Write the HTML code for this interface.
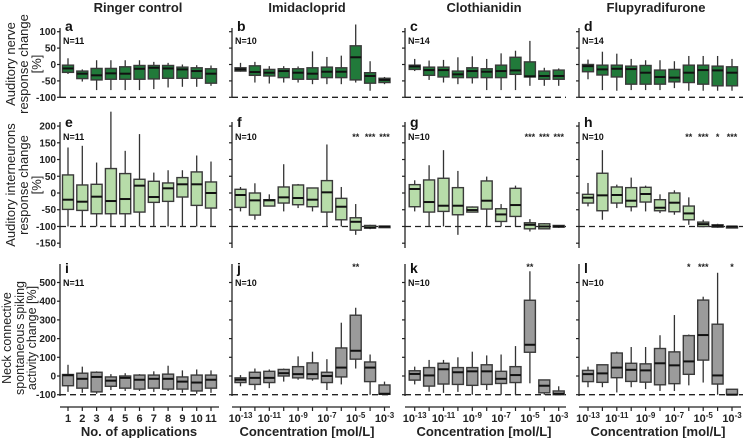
<!DOCTYPE html>
<html><head><meta charset="utf-8">
<style>
html,body{margin:0;padding:0;background:#fff;}
svg{display:block;font-family:"Liberation Sans",Arial,sans-serif;}
</style></head>
<body>
<svg id="fig" width="743" height="438" viewBox="0 0 743 438"></svg>
<script>
// ---- data: each box = [lowWhisker, q1, median, q3, highWhisker] ----
const colTitles = ["Ringer control","Imidacloprid","Clothianidin","Flupyradifurone"];
const panelLetters = ["a","b","c","d","e","f","g","h","i","j","k","l"];
const panelN = ["N=11","N=10","N=14","N=14","N=11","N=10","N=10","N=10","N=11","N=10","N=10","N=10"];
const appLabels = ["1","2","3","4","5","6","7","8","9","10","11"];
const concExponents = ["-13","-11","-9","-7","-5","-3"];
const row1Ticks = [100,50,0,-50,-100];
const row2Ticks = [200,150,100,50,0,-50,-100,-150];
const row3Ticks = [500,400,300,200,100,0,-100];

const panelA = [[-29,-24,-12,-2,19],[-52,-43,-28,-20,-15],[-78,-47,-33,-12,13],[-78,-45,-27,-12,13],[-78,-45,-28,-7,13],[-78,-45,-13,-3,13],[-75,-44,-10,-3,8],[-70,-42,-12,-3,5],[-68,-42,-15,-8,0],[-68,-42,-20,-10,-2],[-65,-57,-28,-13,-3]];
const panelB = [[-22,-20,-15,-10,5],[-55,-33,-23,-4,8],[-58,-35,-25,-15,-5],[-55,-40,-20,-13,-5],[-55,-45,-25,-13,-6],[-60,-45,-28,-10,40],[-60,-40,-22,-8,23],[-60,-40,-22,-10,27],[-55,-47,22,57,122],[-80,-57,-35,-25,10],[-60,-55,-47,-42,-38]];
const panelC = [[-20,-15,-6,-2,17],[-47,-33,-17,-8,12],[-55,-38,-17,-8,14],[-60,-40,-30,-20,22],[-58,-40,-20,-10,25],[-78,-40,-22,-13,17],[-78,-40,-20,-2,34],[-78,-30,-18,22,42],[-65,-38,-36,8,72],[-65,-45,-35,-20,-10],[-65,-45,-35,-17,-12]];
const panelD = [[-45,-22,-5,0,15],[-78,-32,-15,-2,39],[-80,-38,-13,-2,33],[-78,-60,-14,-5,17],[-78,-60,-25,-3,13],[-78,-60,-38,-17,13],[-72,-53,-40,-15,10],[-80,-55,-25,-2,26],[-80,-60,-17,-2,26],[-80,-65,-18,-5,26],[-80,-65,-25,-7,17]];
const panelE = [[-100,-49,-20,54,136],[-100,-52,-26,24,141],[-100,-62,-11,26,91],[-100,-62,-24,73,243],[-100,-62,-18,58,126],[-100,-57,22,41,176],[-100,-28,-12,35,61],[-100,-25,14,30,68],[-100,-12,26,46,68],[-100,-37,26,63,112],[-100,-45,0,33,94]];
const panelF = [[-55,-43,-6,11,18],[-80,-66,-22,0,29],[-40,-39,-22,-20,-4],[-55,-30,-13,18,86],[-45,-35,-15,24,27],[-55,-41,-20,15,16],[-100,-57,2,37,145],[-100,-80,-41,-16,18],[-125,-111,-86,-74,-33],[-108,-105,-103,-97,-95],[-102,-101,-100,-99,-98]];
const panelG = [[-55,-41,12,25,38],[-100,-57,-27,39,83],[-100,-55,-38,44,128],[-125,-65,-38,16,66],[-58,-57,-51,-42,-40],[-100,-48,-23,36,49],[-100,-85,-64,-47,-33],[-100,-70,-36,14,22],[-115,-107,-95,-89,-78],[-108,-107,-100,-92,-90],[-104,-102,-100,-97,-96]];
const panelH = [[-40,-30,-14,-4,30],[-80,-53,-7,59,128],[-45,-30,-6,18,25],[-55,-41,-23,16,46],[-55,-27,-3,17,22],[-60,-53,-44,-20,-4],[-65,-56,-29,0,8],[-95,-80,-61,-39,-13],[-102,-100,-93,-87,-80],[-104,-102,-98,-95,-92],[-101,-100,-100,-100,-99]];
const panelI = [[-85,-52,4,8,60],[-90,-65,-15,15,50],[-95,-85,-5,20,25],[-75,-55,-25,-5,10],[-80,-65,-10,0,15],[-80,-70,-20,5,10],[-85,-65,-15,5,25],[-80,-70,-15,10,55],[-90,-70,-30,-5,30],[-95,-80,-35,5,35],[-90,-65,-20,5,30]];
const panelJ = [[-55,-35,-20,-10,5],[-75,-45,-10,20,40],[-65,-35,-10,25,35],[-30,0,15,35,40],[-20,-10,10,50,105],[-25,-15,10,70,130],[-75,-35,0,20,90],[-45,-5,45,150,285],[40,90,135,325,365],[-100,-30,45,75,115],[-100,-98,-95,-48,-30]];
const panelK = [[-45,-22,11,28,50],[-84,-54,3,45,86],[-90,-43,36,68,86],[-85,-45,20,45,100],[-100,-50,25,45,130],[-75,-45,25,60,110],[-100,-40,-15,25,115],[-100,-35,5,50,160],[-39,127,167,405,560],[-100,-90,-52,-21,-20],[-100,-100,-95,-80,-55]];
const panelL = [[-60,-30,10,30,50],[-60,-34,14,60,60],[-88,-9,45,123,130],[-60,-29,33,68,155],[-70,-33,30,65,155],[-80,-47,68,147,218],[-80,-41,57,129,326],[-50,9,78,216,222],[-35,85,219,406,424],[-100,-43,3,277,552],[-100,-100,-100,-71,-70]];
const panelData = [panelA,panelB,panelC,panelD,panelE,panelF,panelG,panelH,panelI,panelJ,panelK,panelL];
// significance markers: [panelIndex, boxIndex, label]
const sigPanel = [5,5,5,6,6,6,7,7,7,7,9,10,11,11,11];
const sigBox   = [8,9,10,8,9,10,7,8,9,10,8,8,7,8,10];
const sigText  = ["**","***","***","***","***","***","**","***","*","***","**","**","*","***","*"];

// ---- layout ----
const NS = "http://www.w3.org/2000/svg";
const svg = document.getElementById("fig");
const colAxisX = [60,232,405,579];
const colFirstBox = [68,240.5,414.7,588];
const colStep = [14.3,14.4,14.4,14.4];
const colRight = [219,390,566,743];
const rows = [
  {zero:64.5, k:0.328, top:28, bottom:97, ticks:row1Ticks, fill:"#217a3a", textY:31},
  {zero:193, k:0.3347, top:122, bottom:248, ticks:row2Ticks, fill:"#b7dca9", textY:127},
  {zero:376, k:0.187, top:264, bottom:396, ticks:row3Ticks, fill:"#9b9b9b", textY:273}
];
function yScale(r,v){return rows[r].zero - v*rows[r].k;}
function xScale(c,i){return colFirstBox[c] + i*colStep[c];}
function el(tag, attrs, parent){const e=document.createElementNS(NS,tag);for(const k in attrs)e.setAttribute(k,attrs[k]);(parent||svg).appendChild(e);return e;}

// column titles
colTitles.forEach((t,c)=>{
  const tx=el("text",{x:[138,307,484,656][c],y:12,"text-anchor":"middle","font-size":"13","font-weight":"bold",fill:"#222"});
  tx.textContent=t;
  
  
});

// y-axis titles
const yTitles=[["Auditory nerve","response change","[%]"],["Auditory interneurons","response change","[%]"],["Neck connective","spontaneous spiking","activity change [%]"]];
const yTitleCenter=[64,185,338];
const yTitleX=[[15,28,41],[15,28,41],[11,24,36]];
yTitles.forEach((lines,r)=>{
  lines.forEach((ln,j)=>{
    const x=yTitleX[r][j], y=yTitleCenter[r];
    const tx=el("text",{x:x,y:y,"text-anchor":"middle","font-size":r===2?"12.5":"13",fill:"#222",transform:`rotate(-90 ${x} ${y})`});
    tx.textContent=ln;
    
    
  });
});

for(let p=0;p<12;p++){
  const r=Math.floor(p/4), c=p%4, R=rows[r];
  const g=el("g",{});
  
  
  const ax=el("line",{x1:colAxisX[c],x2:colAxisX[c],y1:R.top,y2:R.bottom,stroke:"#222","stroke-width":1.3},g);
  
  
  R.ticks.forEach(t=>{
    const y=yScale(r,t);
    el("line",{x1:colAxisX[c]-3,x2:colAxisX[c],y1:y,y2:y,stroke:"#222","stroke-width":1.2},g);
    if(c===0){
      const tl=el("text",{x:56,y:y+3.5,"text-anchor":"end","font-size":"10","font-weight":"bold",fill:"#222"},g);
      tl.textContent=String(t);
      
      
    }
  });
  const dl=el("line",{x1:colAxisX[c],x2:colRight[c],y1:yScale(r,-100),y2:yScale(r,-100),stroke:"#222","stroke-width":1.3,"stroke-dasharray":"6,4"},g);
  
  
  const lt=el("text",{x:colAxisX[c]+5,y:R.textY,"font-size":"14","font-weight":"bold",fill:"#111"},g);
  lt.textContent=panelLetters[p];
  
  
  const nt=el("text",{x:colAxisX[c]+3,y:R.textY+13,"font-size":"9","font-weight":"bold",fill:"#111"},g);
  nt.textContent=panelN[p];
  
  
  panelData[p].forEach((b,i)=>{
    const x=xScale(c,i), w=11;
    const bg=el("g",{},g);
    
    
    el("line",{x1:x,x2:x,y1:yScale(r,b[4]),y2:yScale(r,b[0]),stroke:"#333","stroke-width":1.3},bg);
    const yq3=yScale(r,b[3]), yq1=yScale(r,b[1]);
    el("rect",{x:x-w/2,y:yq3,width:w,height:Math.max(1.5,yq1-yq3),fill:R.fill,stroke:"#3a3a3a","stroke-width":1.4},bg);
    el("line",{x1:x-w/2,x2:x+w/2,y1:yScale(r,b[2]),y2:yScale(r,b[2]),stroke:"#111","stroke-width":2},bg);
  });
}

sigPanel.forEach((p,k)=>{
  const r=Math.floor(p/4), c=p%4;
  const t=el("text",{x:xScale(c,sigBox[k]),y:r===1?140:270,"text-anchor":"middle","font-size":"9","font-weight":"bold",fill:"#222"});
  t.textContent=sigText[k];
  
  
});

for(let c=0;c<4;c++){
  const xa=el("line",{x1:colAxisX[c],x2:colRight[c]-(c===3?2:0),y1:407,y2:407,stroke:"#222","stroke-width":1.3});
  
  
  for(let i=0;i<11;i++){
    const x=xScale(c,i);
    el("line",{x1:x,x2:x,y1:407,y2:411,stroke:"#222","stroke-width":1.2});
    if(c===0){
      const tl=el("text",{x:x,y:422,"text-anchor":"middle","font-size":"11","font-weight":"bold",fill:"#222"});
      tl.textContent=appLabels[i];
      
      
    } else if(i%2===0){
      const tl=el("text",{x:x,y:422,"text-anchor":"middle","font-size":"11","font-weight":"bold",fill:"#222"});
      tl.textContent="10";
      const sp=el("tspan",{dy:-4,"font-size":"8"},tl);
      sp.textContent=concExponents[i/2];
      
      
    }
  }
  const xt=el("text",{x:[139,307,484,658][c],y:436,"text-anchor":"middle","font-size":"13","font-weight":"bold",fill:"#222"});
  xt.textContent=c===0?"No. of applications":"Concentration [mol/L]";
  
  
}
</script>
</body></html>
